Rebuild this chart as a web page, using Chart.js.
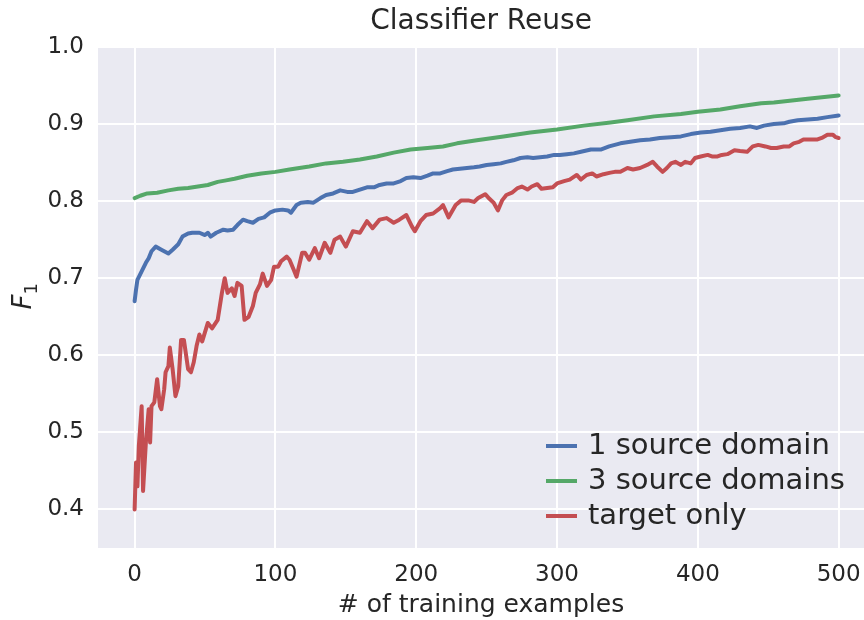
<!DOCTYPE html>
<html>
<head>
<meta charset="utf-8">
<script src="https://cdn.jsdelivr.net/npm/chart.js@4"></script>
<style>
  html, body { margin: 0; padding: 0; background: #fff; }
  #wrap { width: 864px; height: 620px; }
</style>
</head>
<body>
<div id="wrap"><canvas id="chart" width="864" height="620"></canvas></div>
<script>
// tick labels
const xTicks = [0, 100, 200, 300, 400, 500];
const yTicks = [0.4, 0.5, 0.6, 0.7, 0.8, 0.9, 1.0];

const seriesNames = ["1 source domain", "3 source domains", "target only"];

// 1 source domain
const blueX = [0, 1, 2, 5, 8, 10, 12, 15, 19, 24, 27, 31, 34, 38, 41, 46, 50, 52, 54, 58, 63, 66, 70, 73, 77, 80, 84, 88, 92, 96,
  100, 105, 109, 111, 115, 118, 123, 127, 132, 136, 141, 146, 151, 155, 160, 165, 170, 174, 179, 184, 189, 193, 198,
  203, 208, 212, 217, 222, 226, 231, 236, 241, 245, 250, 255, 260, 264, 269, 274, 279, 283, 288, 293, 298,
  302, 307, 312, 317, 324, 331, 337, 345, 352, 359, 366, 373, 381, 388, 395,
  402, 409, 416, 423, 430, 437, 442, 447, 454, 461, 465, 471, 478, 485, 492, 500];
const blueY = [0.670, 0.685, 0.698, 0.709, 0.720, 0.726, 0.735, 0.741, 0.737, 0.732, 0.737, 0.744, 0.754, 0.758, 0.759, 0.759, 0.756, 0.759, 0.754, 0.759, 0.763, 0.762, 0.763, 0.769, 0.776, 0.774, 0.772, 0.777, 0.779, 0.785,
  0.788, 0.789, 0.788, 0.785, 0.795, 0.798, 0.799, 0.798, 0.804, 0.808, 0.810, 0.814, 0.812, 0.812, 0.815, 0.818, 0.818, 0.821, 0.823, 0.823, 0.826, 0.830, 0.831,
  0.830, 0.833, 0.836, 0.836, 0.839, 0.841, 0.842, 0.843, 0.844, 0.845, 0.847, 0.848, 0.849, 0.851, 0.853, 0.856, 0.857, 0.856, 0.857, 0.858, 0.860,
  0.860, 0.861, 0.862, 0.864, 0.867, 0.867, 0.871, 0.875, 0.877, 0.879, 0.880, 0.882, 0.883, 0.884, 0.887,
  0.889, 0.890, 0.892, 0.894, 0.895, 0.897, 0.895, 0.898, 0.900, 0.901, 0.903, 0.905, 0.906, 0.907, 0.909, 0.911];

// 3 source domains
const greenX = [0, 4, 9, 16, 24, 31, 38, 45, 52, 59, 65, 71, 80, 90, 100, 110, 124, 136, 148, 160, 172, 184, 196,
  208, 219, 229, 243, 262, 281, 300, 319, 338, 350, 369, 388, 400, 416, 430, 445, 454, 478, 500];
const greenY = [0.804, 0.807, 0.810, 0.811, 0.814, 0.816, 0.817, 0.819, 0.821, 0.825, 0.827, 0.829, 0.833, 0.836, 0.838, 0.841, 0.845, 0.849, 0.851, 0.854, 0.858, 0.863, 0.867,
  0.869, 0.871, 0.875, 0.879, 0.884, 0.889, 0.893, 0.898, 0.902, 0.905, 0.910, 0.913, 0.916, 0.919, 0.923, 0.927, 0.928, 0.933, 0.937];

// target only
const redX = [0, 1, 2, 3, 5, 6, 8, 10, 11, 12, 14, 16, 18, 19, 21, 22, 24, 25, 27, 29, 31, 33, 35, 38, 40, 42, 44, 46, 48,
  52, 55, 59, 62, 64, 66, 69, 71, 73, 76, 78, 81, 84, 86, 89, 91, 94, 97, 99,
  102, 104, 108, 110, 113, 115, 119, 121, 124, 128, 131, 135, 139, 142, 146, 150, 155, 160, 165, 169, 174, 179, 184, 188, 193, 197, 199,
  203, 207, 212, 217, 219, 223, 228, 232, 237, 241, 244, 249, 252, 255, 258, 261, 264, 268, 272, 275, 279, 282, 286, 289, 293, 297,
  300, 305, 309, 314, 317, 321, 325, 328, 333, 338, 341, 345, 350, 354, 359, 364, 368, 371, 375, 378, 381, 384, 388, 391, 395, 398,
  402, 407, 410, 414, 417, 421, 426, 430, 435, 439, 443, 448, 452, 456, 461, 465, 468, 472, 475, 478, 481, 485, 488, 492, 496, 498, 500];
const redY = [0.400, 0.461, 0.430, 0.482, 0.534, 0.424, 0.487, 0.530, 0.487, 0.534, 0.539, 0.569, 0.534, 0.530, 0.556, 0.578, 0.586, 0.610, 0.582, 0.547, 0.560, 0.620, 0.620, 0.582, 0.578, 0.591, 0.612, 0.627, 0.618,
  0.642, 0.635, 0.646, 0.681, 0.700, 0.681, 0.687, 0.677, 0.694, 0.690, 0.646, 0.650, 0.664, 0.681, 0.692, 0.706, 0.690, 0.698, 0.715,
  0.715, 0.722, 0.728, 0.724, 0.711, 0.702, 0.733, 0.733, 0.724, 0.739, 0.726, 0.746, 0.733, 0.750, 0.754, 0.741, 0.761, 0.759, 0.774, 0.765, 0.776, 0.778, 0.772, 0.776, 0.782, 0.767, 0.761,
  0.774, 0.782, 0.784, 0.791, 0.795, 0.779, 0.795, 0.801, 0.801, 0.799, 0.804, 0.809, 0.803, 0.798, 0.788, 0.801, 0.808, 0.811, 0.817, 0.819, 0.815, 0.819, 0.822, 0.816, 0.817, 0.818,
  0.823, 0.826, 0.828, 0.834, 0.828, 0.834, 0.836, 0.832, 0.835, 0.837, 0.838, 0.838, 0.843, 0.841, 0.843, 0.847, 0.851, 0.845, 0.838, 0.843, 0.849, 0.851, 0.847, 0.851, 0.849, 0.856,
  0.858, 0.860, 0.858, 0.858, 0.860, 0.861, 0.866, 0.865, 0.864, 0.871, 0.873, 0.871, 0.869, 0.869, 0.871, 0.871, 0.875, 0.877, 0.880, 0.880, 0.880, 0.880, 0.882, 0.886, 0.886, 0.883, 0.882];

const colors = ["#4C72B0", "#55A868", "#C44E52"];
const textColor = "#262626";
const fontFam = "'DejaVu Sans', sans-serif";

function pts(xs, ys) {
  return xs.map((x, i) => ({ x: x, y: ys[i] }));
}

// grey plot background
const plotBg = {
  id: "plotBg",
  beforeDraw(chart) {
    const a = chart.chartArea;
    const ctx = chart.ctx;
    ctx.save();
    ctx.fillStyle = "#EAEAF2";
    ctx.fillRect(a.left, a.top, a.right - a.left, a.bottom - a.top);
    ctx.restore();
  }
};

// y label F_1 and the legend inside the plot
const extras = {
  id: "extras",
  afterDraw(chart) {
    const ctx = chart.ctx;
    const a = chart.chartArea;
    ctx.save();
    ctx.fillStyle = textColor;
    ctx.translate(31, (a.top + a.bottom) / 2);
    ctx.rotate(-Math.PI / 2);
    ctx.textBaseline = "alphabetic";
    ctx.textAlign = "left";
    ctx.font = "italic 26px " + fontFam;
    const fw = ctx.measureText("F").width;
    ctx.fillText("F", -12, 0);
    ctx.font = "18px " + fontFam;
    ctx.fillText("1", -12 + fw, 6);
    ctx.restore();

    ctx.save();
    ctx.font = "29px " + fontFam;
    ctx.textBaseline = "middle";
    ctx.lineCap = "butt";
    const rows = [446, 481, 516];
    chart.data.datasets.forEach((ds, i) => {
      ctx.strokeStyle = ds.borderColor;
      ctx.lineWidth = 4;
      ctx.beginPath();
      ctx.moveTo(546, rows[i]);
      ctx.lineTo(577, rows[i]);
      ctx.stroke();
      ctx.fillStyle = textColor;
      ctx.fillText(ds.label, 588, rows[i]);
    });
    ctx.restore();
  }
};

new Chart(document.getElementById("chart"), {
  type: "line",
  data: {
    datasets: [
      { label: seriesNames[0], data: pts(blueX, blueY), borderColor: colors[0] },
      { label: seriesNames[1], data: pts(greenX, greenY), borderColor: colors[1] },
      { label: seriesNames[2], data: pts(redX, redY), borderColor: colors[2] }
    ]
  },
  options: {
    responsive: false,
    animation: false,
    layout: { padding: 0 },
    elements: {
      point: { radius: 0 },
      line: { borderWidth: 4, tension: 0, borderJoinStyle: "round", borderCapStyle: "round", fill: false }
    },
    plugins: {
      legend: { display: false },
      tooltip: { enabled: false },
      title: {
        display: true,
        fullSize: false,
        text: "Classifier Reuse",
        color: textColor,
        font: { family: fontFam, size: 28, weight: "normal", lineHeight: 1.2 },
        padding: { top: 5, bottom: 8.4 }
      }
    },
    scales: {
      x: {
        type: "linear",
        min: -26,
        max: 518,
        afterBuildTicks: (s) => { s.ticks = xTicks.map(v => ({ value: v })); },
        afterFit: (s) => { s.height = 72; s.paddingLeft = 0; s.paddingRight = 0; },
        border: { display: false },
        grid: { color: "#ffffff", lineWidth: 2, drawTicks: false },
        ticks: { color: textColor, padding: 13, font: { family: fontFam, size: 23 }, maxRotation: 0 },
        title: {
          display: true,
          text: "# of training examples",
          color: textColor,
          font: { family: fontFam, size: 25 },
          padding: { top: 0, bottom: 0 }
        }
      },
      y: {
        min: 0.35,
        max: 1.0,
        afterBuildTicks: (s) => { s.ticks = yTicks.map(v => ({ value: v })); },
        afterFit: (s) => { s.width = 98; s.paddingTop = 0; s.paddingBottom = 0; },
        border: { display: false },
        grid: { color: "#ffffff", lineWidth: 2, drawTicks: false },
        ticks: {
          color: textColor,
          padding: 14,
          font: { family: fontFam, size: 23 },
          callback: (v) => Number(v).toFixed(1)
        }
      }
    }
  },
  plugins: [plotBg, extras]
});
</script>
</body>
</html>
